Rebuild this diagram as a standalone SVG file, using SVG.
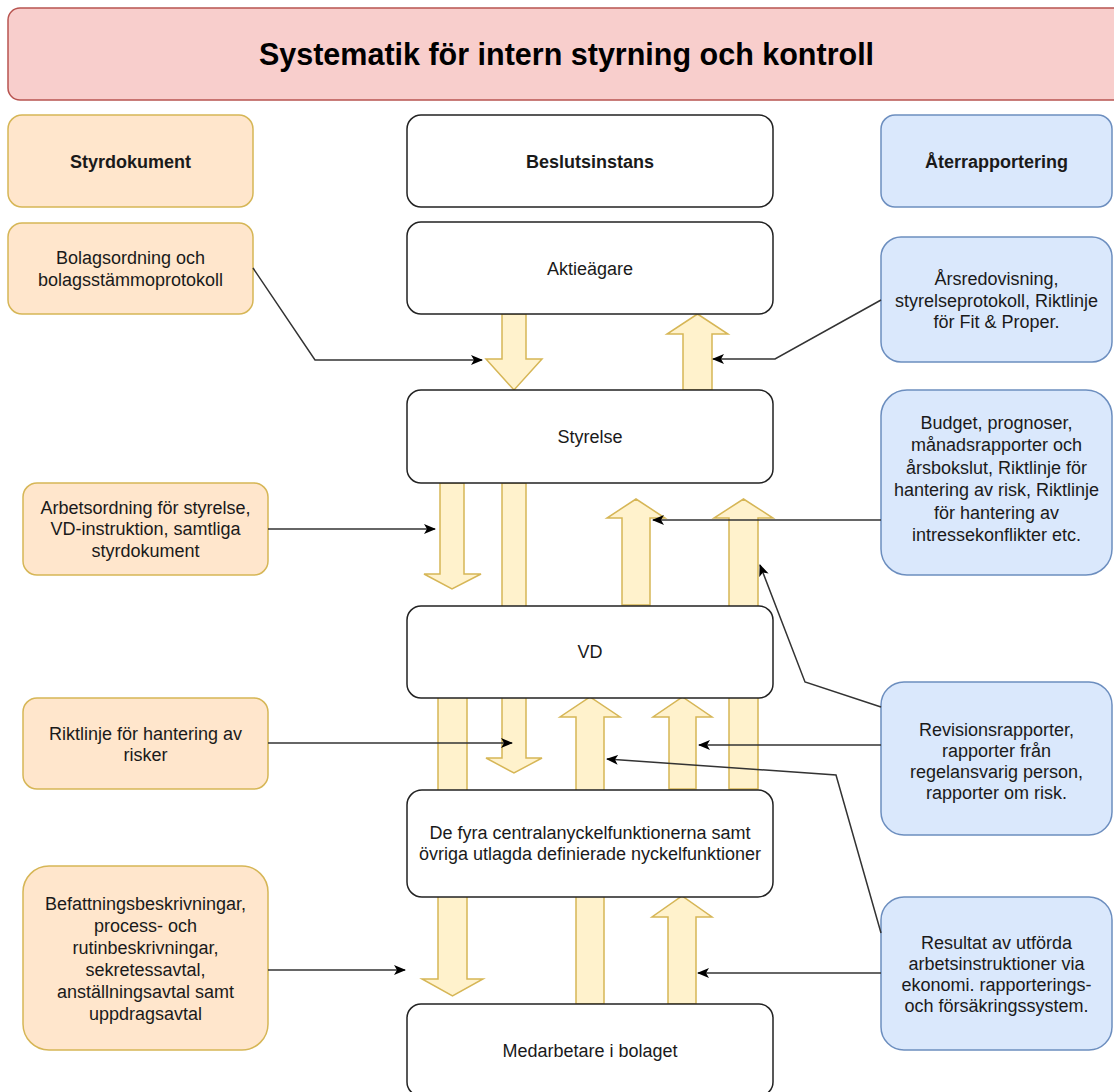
<svg xmlns="http://www.w3.org/2000/svg" width="1114" height="1092" viewBox="0 0 1114 1092">
<defs>
<style>
.t{font-family:"Liberation Sans",Arial,sans-serif;font-size:18px;fill:#1a1a1a;text-anchor:middle}
.b{font-weight:bold}
.title{font-family:"Liberation Sans",Arial,sans-serif;font-size:30.5px;font-weight:bold;fill:#000;text-anchor:middle}
.main{fill:#fff;stroke:#222;stroke-width:1.5}
.org{fill:#ffe6cc;stroke:#d6b656;stroke-width:1.5}
.blu{fill:#dae8fc;stroke:#6c8ebf;stroke-width:1.5}
.flow{fill:#fff2cc;stroke:#d6b656;stroke-width:1.5}
.con{fill:none;stroke:#333;stroke-width:1.5;marker-end:url(#ah)}
</style>
<marker id="ah" viewBox="0 0 12 10" refX="11" refY="5" markerWidth="12" markerHeight="10" markerUnits="userSpaceOnUse" orient="auto"><path d="M0,0 L12,5 L0,10 L3,5 Z" fill="#000"/></marker>
</defs>
<rect width="1114" height="1092" fill="#fff"/>

<g id="flow-arrows">
<polygon class="flow" points="502,314 526,314 526,359 542,359 514,390 486,359 502,359"/>
<polygon class="flow" points="683,390 712,390 712,334 728,334 697.5,314 667,334 683,334"/>
<polygon class="flow" points="440,483 464,483 464,574 481,574 452,589 424,574 440,574"/>
<polygon class="flow" points="502,483 526,483 526,758 542,758 514,773 486,758 502,758"/>
<polygon class="flow" points="622,605 650,605 650,518 665,518 636,499 607,518 622,518"/>
<polygon class="flow" points="729,789 758,789 758,518 773,518 743.5,499 714,518 729,518"/>
<polygon class="flow" points="438,697 467,697 467,979 483,979 452.5,996 422,979 438,979"/>
<polygon class="flow" points="576,1004 604,1004 604,717 620,717 590,697 560,717 576,717"/>
<polygon class="flow" points="669,789 696,789 696,717 712,717 682.5,697 653,717 669,717"/>
<polygon class="flow" points="668,1004 696,1004 696,917 712,917 682,896 652,917 668,917"/>
</g>

<g id="title">
<rect x="8" y="8" width="1125" height="92" rx="12" fill="#f8cecc" stroke="#b85450" stroke-width="1.5"/>
<text class="title" x="566.5" y="64.5">Systematik för intern styrning och kontroll</text>
</g>

<g id="styrdokument">
<rect class="org" x="8" y="115" width="245" height="92" rx="14"/>
<text class="t b" x="130.5" y="167.5">Styrdokument</text>
</g>
<g id="beslutsinstans">
<rect class="main" x="407" y="115" width="366" height="92" rx="14"/>
<text class="t b" x="590" y="167.5">Beslutsinstans</text>
</g>
<g id="aterrapportering">
<rect class="blu" x="881" y="115" width="231" height="92" rx="14"/>
<text class="t b" x="996.5" y="167.5">Återrapportering</text>
</g>

<g id="bolagsordning">
<rect class="org" x="8" y="223" width="245" height="91" rx="14"/>
<text class="t" x="130.5"><tspan x="130.5" y="264">Bolagsordning och</tspan><tspan x="130.5" y="286">bolagsstämmoprotokoll</tspan></text>
</g>
<g id="aktieagare">
<rect class="main" x="407" y="222" width="366" height="92" rx="14"/>
<text class="t" x="590" y="274.5">Aktieägare</text>
</g>
<g id="arsredovisning">
<rect class="blu" x="881" y="237" width="231" height="125" rx="20"/>
<text class="t"><tspan x="996.5" y="285">Årsredovisning,</tspan><tspan x="996.5" y="306.5">styrelseprotokoll, Riktlinje</tspan><tspan x="996.5" y="328">för Fit &amp; Proper.</tspan></text>
</g>

<g id="styrelse">
<rect class="main" x="407" y="390" width="366" height="93" rx="14"/>
<text class="t" x="590" y="443">Styrelse</text>
</g>
<g id="budget">
<rect class="blu" x="881" y="390" width="231" height="185" rx="26"/>
<text class="t"><tspan x="996.5" y="428.5">Budget, prognoser,</tspan><tspan x="996.5" y="451">månadsrapporter och</tspan><tspan x="996.5" y="473.5">årsbokslut, Riktlinje för</tspan><tspan x="996.5" y="496">hantering av risk, Riktlinje</tspan><tspan x="996.5" y="518.5">för hantering av</tspan><tspan x="996.5" y="541">intressekonflikter etc.</tspan></text>
</g>
<g id="arbetsordning">
<rect class="org" x="23" y="483" width="245" height="92" rx="14"/>
<text class="t"><tspan x="145.5" y="513.5">Arbetsordning för styrelse,</tspan><tspan x="145.5" y="535">VD-instruktion, samtliga</tspan><tspan x="145.5" y="556.5">styrdokument</tspan></text>
</g>

<g id="vd">
<rect class="main" x="407" y="606" width="366" height="92" rx="14"/>
<text class="t" x="590" y="658">VD</text>
</g>
<g id="riktlinje">
<rect class="org" x="23" y="698" width="245" height="91" rx="14"/>
<text class="t"><tspan x="145.5" y="739.5">Riktlinje för hantering av</tspan><tspan x="145.5" y="761">risker</tspan></text>
</g>
<g id="revisionsrapporter">
<rect class="blu" x="881" y="682" width="231" height="153" rx="23"/>
<text class="t"><tspan x="996.5" y="735.5">Revisionsrapporter,</tspan><tspan x="996.5" y="756.5">rapporter från</tspan><tspan x="996.5" y="777.5">regelansvarig person,</tspan><tspan x="996.5" y="798.5">rapporter om risk.</tspan></text>
</g>

<g id="nyckelfunktioner">
<rect class="main" x="407" y="790" width="366" height="107" rx="15"/>
<text class="t"><tspan x="590" y="838.5">De fyra centralanyckelfunktionerna samt</tspan><tspan x="590" y="860">övriga utlagda definierade nyckelfunktioner</tspan></text>
</g>
<g id="befattningsbeskrivningar">
<rect class="org" x="23" y="866" width="245" height="184" rx="26"/>
<text class="t"><tspan x="145.5" y="909.5">Befattningsbeskrivningar,</tspan><tspan x="145.5" y="931.5">process- och</tspan><tspan x="145.5" y="953.5">rutinbeskrivningar,</tspan><tspan x="145.5" y="975.5">sekretessavtal,</tspan><tspan x="145.5" y="997.5">anställningsavtal samt</tspan><tspan x="145.5" y="1019.5">uppdragsavtal</tspan></text>
</g>
<g id="resultat">
<rect class="blu" x="881" y="897" width="231" height="153" rx="23"/>
<text class="t"><tspan x="996.5" y="948.5">Resultat av utförda</tspan><tspan x="996.5" y="969.5">arbetsinstruktioner via</tspan><tspan x="996.5" y="990.5">ekonomi. rapporterings-</tspan><tspan x="996.5" y="1011.5">och försäkringssystem.</tspan></text>
</g>
<g id="medarbetare">
<rect class="main" x="407" y="1004" width="366" height="92" rx="14"/>
<text class="t" x="590" y="1056.5">Medarbetare i bolaget</text>
</g>

<g id="connectors">
<polyline class="con" points="253,268 315,360 482,360"/>
<polyline class="con" points="881,300 775,359 713,359"/>
<polyline class="con" points="268,529 435,529"/>
<polyline class="con" points="881,520 653,520"/>
<polyline class="con" points="881,707 805,682 760,565"/>
<polyline class="con" points="268,743 512,743"/>
<polyline class="con" points="881,745 699,745"/>
<polyline class="con" points="881,933 836,775 607,759"/>
<polyline class="con" points="268,970 405,970"/>
<polyline class="con" points="881,973 698,973"/>
</g>
</svg>
